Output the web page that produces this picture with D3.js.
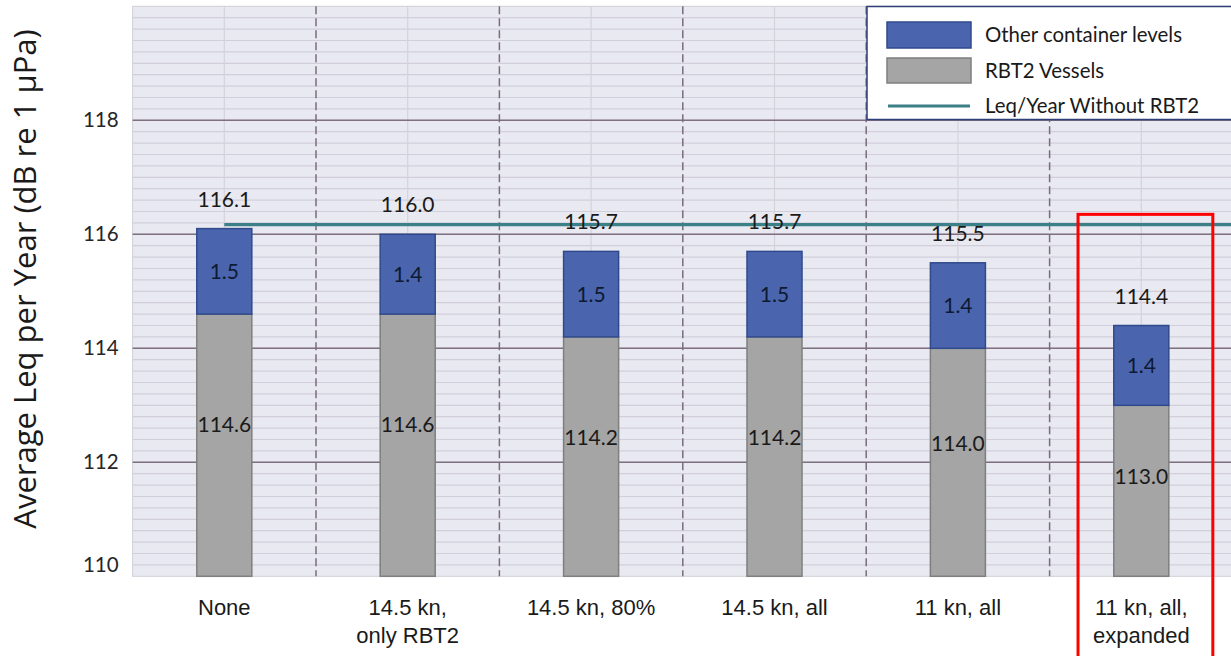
<!DOCTYPE html>
<meta charset="utf-8">
<title>Average Leq per Year</title>
<style>
  body { margin: 0; background: #fff; }
  svg { display: block; }
</style>
<body>
<script src="https://cdn.jsdelivr.net/npm/d3@7"></script>
<script>
// data
var categories = [["None"], ["14.5 kn,", "only RBT2"], ["14.5 kn, 80%"], ["14.5 kn, all"], ["11 kn, all"], ["11 kn, all,", "expanded"]];
var rbt2Vessels = [114.6, 114.6, 114.2, 114.2, 114.0, 113.0];
var otherLevels = [1.5, 1.4, 1.5, 1.5, 1.4, 1.4];
var totals = [116.1, 116.0, 115.7, 115.7, 115.5, 114.4];
var withoutRbt2 = 116.17;
var yTicks = [110, 112, 114, 116, 118];
var legendNames = ["Other container levels", "RBT2 Vessels", "Leq/Year Without RBT2"];

var width = 1231,
    height = 656;

var plotL = 132.6, plotR = 1233, plotT = 6.3, plotB = 576.3;

var blue = "#4a65ad", gray = "#a5a5a5", teal = "#3b7f87";

var svg = d3.select("body").append("svg")
    .attr("width", width)
    .attr("height", height);

var x = d3.scaleBand()
    .domain(d3.range(categories.length))
    .range([plotL, plotR])
    .paddingInner(0)
    .paddingOuter(0);

var y = d3.scaleLinear()
    .domain([110, 120])
    .range([plotB, plotT]);

var barW = x.bandwidth() * 0.3;

// plot background
svg.append("rect")
    .attr("x", plotL).attr("y", plotT)
    .attr("width", plotR - plotL).attr("height", plotB - plotT)
    .style("fill", "#e9e9f1")
    .style("stroke", "#cfcfd6");

// minor grid
svg.selectAll(".minor")
    .data(d3.range(110.2, 120, 0.2))
    .enter().append("line")
    .attr("x1", plotL).attr("x2", plotR)
    .attr("y1", function(d) { return y(d); })
    .attr("y2", function(d) { return y(d); })
    .style("stroke", "#d2cfdb")
    .style("stroke-width", 1.2);

// faint lines at category centres
svg.selectAll(".vcenter")
    .data(d3.range(categories.length))
    .enter().append("line")
    .attr("x1", function(d) { return x(d) + x.bandwidth() / 2; })
    .attr("x2", function(d) { return x(d) + x.bandwidth() / 2; })
    .attr("y1", plotT).attr("y2", plotB)
    .style("stroke", "#d6d2dc")
    .style("stroke-width", 1.2);

// major grid
svg.selectAll(".major")
    .data(yTicks.slice(1))
    .enter().append("line")
    .attr("x1", plotL).attr("x2", plotR)
    .attr("y1", function(d) { return y(d); })
    .attr("y2", function(d) { return y(d); })
    .style("stroke", "#7f7080")
    .style("stroke-width", 1.5);

// dashed category boundaries
svg.selectAll(".vsep")
    .data(d3.range(1, categories.length))
    .enter().append("line")
    .attr("x1", function(d) { return x(d); })
    .attr("x2", function(d) { return x(d); })
    .attr("y1", plotT).attr("y2", plotB)
    .style("stroke", "#7a6c7c")
    .style("stroke-width", 1.5)
    .style("stroke-dasharray", "8,4");

// y axis labels
var yAxis = svg.append("g")
    .attr("transform", "translate(" + (plotL - 14) + ",0)")
    .call(d3.axisLeft(y).tickValues(yTicks).tickSize(0).tickPadding(0));
yAxis.select(".domain").remove();
yAxis.selectAll("text")
    .style("font-family", "Lato")
    .style("font-size", "20.5px")
    .style("fill", "#262626");
// the bottom label sits a bit above its line in the original
yAxis.selectAll(".tick").filter(function(d) { return d === 110; })
    .select("text").attr("dy", "-0.25em");

svg.append("text")
    .attr("transform", "translate(36," + 279 + ") rotate(-90)")
    .attr("text-anchor", "middle")
    .style("font-family", "Open Sans")
    .style("font-size", "31px")
    .style("fill", "#1a1a1a")
    .text("Average Leq per Year (dB re 1 µPa)");

// gray stack
svg.selectAll(".gray")
    .data(rbt2Vessels)
    .enter().append("rect")
    .attr("x", function(d, i) { return x(i) + (x.bandwidth() - barW) / 2; })
    .attr("y", function(d) { return y(d); })
    .attr("width", barW)
    .attr("height", function(d) { return y(110) - y(d); })
    .style("fill", gray)
    .style("stroke", "#7f7f7f")
    .style("stroke-width", 1.5);

// blue stack
svg.selectAll(".blue")
    .data(rbt2Vessels)
    .enter().append("rect")
    .attr("x", function(d, i) { return x(i) + (x.bandwidth() - barW) / 2; })
    .attr("y", function(d, i) { return y(totals[i]); })
    .attr("width", barW)
    .attr("height", function(d, i) { return y(d) - y(totals[i]); })
    .style("fill", blue)
    .style("stroke", "#2f4a8c")
    .style("stroke-width", 1.5);

// teal reference line
svg.append("line")
    .attr("x1", x(0) + x.bandwidth() / 2)
    .attr("x2", plotR)
    .attr("y1", y(withoutRbt2))
    .attr("y2", y(withoutRbt2))
    .style("stroke", teal)
    .style("stroke-width", 3.2);

// labels
function styleAll(sel, fill) {
  return sel.style("font-family", "Lato")
      .style("font-size", "21px")
      .style("fill", fill || "#1a1a1a");
}

styleAll(svg.selectAll(".lgray")
    .data(rbt2Vessels)
    .enter().append("text")
    .attr("x", function(d, i) { return x(i) + x.bandwidth() / 2; })
    .attr("y", function(d) { return y(110 + (d - 110) * 0.58); })
    .attr("dy", "0.35em")
    .attr("text-anchor", "middle")
    .text(function(d) { return d.toFixed(1); }));

styleAll(svg.selectAll(".lblue")
    .data(otherLevels)
    .enter().append("text")
    .attr("x", function(d, i) { return x(i) + x.bandwidth() / 2; })
    .attr("y", function(d, i) { return (y(rbt2Vessels[i]) + y(totals[i])) / 2; })
    .attr("dy", "0.35em")
    .attr("text-anchor", "middle")
    .text(function(d) { return d.toFixed(1); }), "#0d1a33");

styleAll(svg.selectAll(".ltot")
    .data(totals)
    .enter().append("text")
    .attr("x", function(d, i) { return x(i) + x.bandwidth() / 2; })
    .attr("y", function(d) { return y(d) - 22; })
    .attr("text-anchor", "middle")
    .text(function(d) { return d.toFixed(1); }));

// category labels
var xl = svg.selectAll(".xl")
    .data(categories)
    .enter().append("text")
    .attr("x", function(d, i) { return x(i) + x.bandwidth() / 2; })
    .attr("y", 615)
    .attr("text-anchor", "middle")
    .style("font-family", "Liberation Sans, Arial, sans-serif")
    .style("font-size", "22px")
    .style("fill", "#1a1a1a");
xl.selectAll("tspan")
    .data(function(d) { return d; })
    .enter().append("tspan")
    .attr("x", function() { return this.parentNode.getAttribute("x"); })
    .attr("dy", function(d, i) { return i ? 28 : 0; })
    .text(function(d) { return d; });

// legend
var lg = svg.append("g");
lg.append("rect")
    .attr("x", 867).attr("y", 6.5)
    .attr("width", 420).attr("height", 113)
    .style("fill", "#fff")
    .style("stroke", "#2f3f78")
    .style("stroke-width", 1.5);
lg.append("rect")
    .attr("x", 887).attr("y", 22).attr("width", 84).attr("height", 26)
    .style("fill", blue).style("stroke", "#2f4a8c").style("stroke-width", 1.5);
lg.append("rect")
    .attr("x", 887).attr("y", 58).attr("width", 84).attr("height", 25)
    .style("fill", gray).style("stroke", "#7f7f7f").style("stroke-width", 1.5);
lg.append("line")
    .attr("x1", 888).attr("x2", 970).attr("y1", 106).attr("y2", 106)
    .style("stroke", teal).style("stroke-width", 3.2);
lg.selectAll(".lt")
    .data(legendNames)
    .enter().append("text")
    .attr("x", 985)
    .attr("y", function(d, i) { return [35, 71, 106][i]; })
    .attr("dy", "0.35em")
    .style("font-family", "Lato")
    .style("font-size", "20.4px")
    .style("fill", "#1a1a1a")
    .text(function(d) { return d; });

// red highlight box around the last category
var last = categories.length - 1;
svg.append("rect")
    .attr("x", x(last) + x.bandwidth() * 0.155)
    .attr("y", y(116.35))
    .attr("width", x.bandwidth() * 0.735)
    .attr("height", 500)
    .style("fill", "none")
    .style("stroke", "#ff0000")
    .style("stroke-width", 3);
</script>
</body>
